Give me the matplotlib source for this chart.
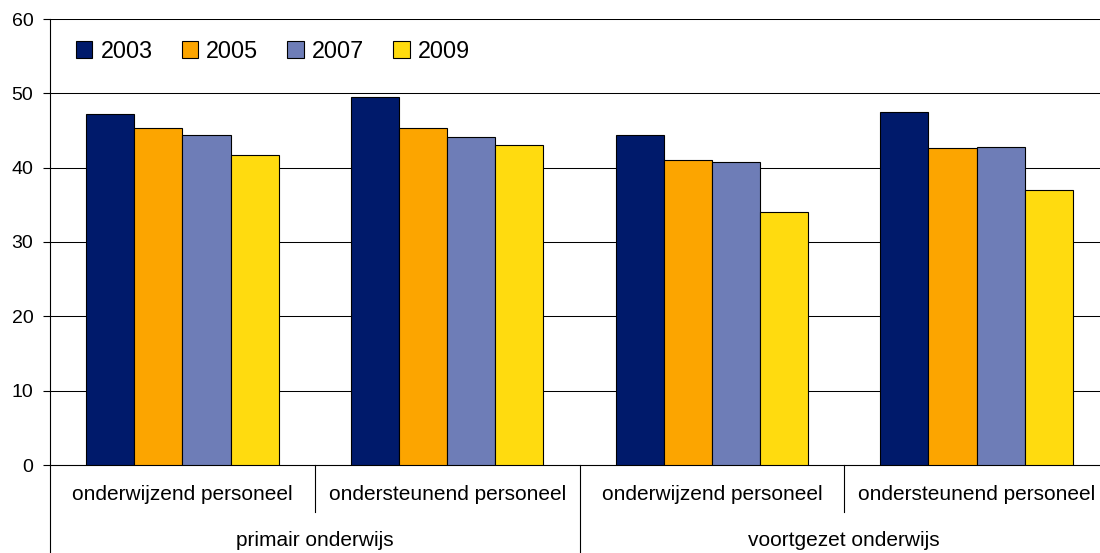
import matplotlib
matplotlib.use("Agg")
import matplotlib.pyplot as plt
import matplotlib.transforms as mtransforms
import numpy as np

plt.rcParams['font.family'] = ['Liberation Sans', 'DejaVu Sans']

years = ['2003', '2005', '2007', '2009']
subcategories = ['onderwijzend personeel', 'ondersteunend personeel',
                 'onderwijzend personeel', 'ondersteunend personeel']
groups = ['primair onderwijs', 'voortgezet onderwijs']
values_2003 = [47.2, 49.5, 44.4, 47.5]
values_2005 = [45.4, 45.4, 41.0, 42.6]
values_2007 = [44.4, 44.1, 40.7, 42.8]
values_2009 = [41.7, 43.0, 34.0, 37.0]
yticks = [0, 10, 20, 30, 40, 50, 60]

series = [values_2003, values_2005, values_2007, values_2009]
colors = ['#001A6B', '#FCA500', '#6E7DB7', '#FFDB0F']

W, H = 1100, 553
fig = plt.figure(figsize=(W / 100, H / 100), dpi=100)
ax = fig.add_axes([50 / W, 1 - 465 / H, (1109 - 50) / W, (465 - 19) / H])

x = np.arange(len(subcategories))
bw = 0.182
for k, (vals, col) in enumerate(zip(series, colors)):
    ax.bar(x + (k - 1.5) * bw, vals, width=bw, color=col, edgecolor='black',
           linewidth=0.8, label=years[k], zorder=3)

ax.set_xlim(-0.5, len(subcategories) - 0.5)
ax.set_ylim(0, 60)
ax.set_yticks(yticks)
ax.set_yticklabels([str(t) for t in yticks], fontsize=14)
for t in yticks[1:]:
    ax.axhline(t, color='black', linewidth=0.75, zorder=1)
ax.tick_params(axis='y', direction='out', length=5, width=0.8, pad=7)
ax.set_xticks([])
for s in ['top', 'right']:
    ax.spines[s].set_visible(False)
ax.spines['left'].set_linewidth(0.8)
ax.spines['bottom'].set_linewidth(0.8)

trans = mtransforms.blended_transform_factory(ax.transData, ax.transAxes)
bot_full = -(553 - 465) / 446
bot_short = -(512 - 465) / 446
ax.plot([-0.5, -0.5], [0, bot_full], transform=trans, color='black', lw=0.8, clip_on=False)
ax.plot([0.5, 0.5], [0, bot_short], transform=trans, color='black', lw=0.8, clip_on=False)
ax.plot([2.5, 2.5], [0, bot_short], transform=trans, color='black', lw=0.8, clip_on=False)
ax.plot([1.5, 1.5], [0, bot_full], transform=trans, color='black', lw=0.8, clip_on=False)

for i, lab in enumerate(subcategories):
    ax.text(i, -(495 - 465) / 446, lab, transform=trans, ha='center', va='center', fontsize=15)
for j, lab in enumerate(groups):
    ax.text(2 * j + 0.5, -(541 - 465) / 446, lab, transform=trans, ha='center', va='center', fontsize=15)

leg = ax.legend(loc='center left', bbox_to_anchor=(76 / W, 1 - 51 / H),
                bbox_transform=fig.transFigure, ncol=4, frameon=False,
                fontsize=16.8, handlelength=0.7, handleheight=0.7,
                handletextpad=0.35, columnspacing=1.25, borderpad=0, borderaxespad=0)

fig.savefig('out.png', dpi=100)
